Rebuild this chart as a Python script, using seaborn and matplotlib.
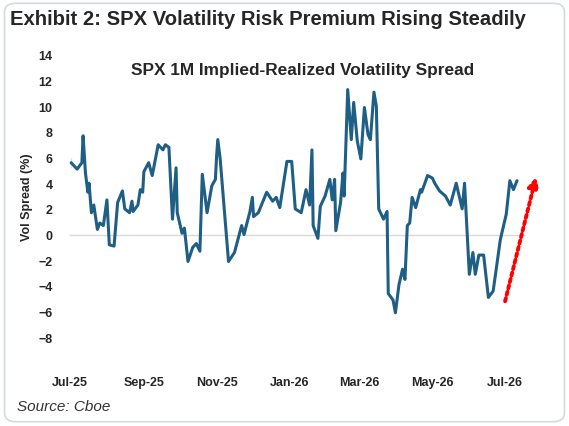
import matplotlib
matplotlib.use("Agg")
import matplotlib.pyplot as plt
import matplotlib.dates as mdates
from matplotlib.patches import FancyBboxPatch
import seaborn as sns
import pandas as pd
import numpy as np

sns.set_style("white")
plt.rcParams['font.family'] = ['Liberation Sans', 'DejaVu Sans']

start = pd.Timestamp("2025-07-01")
day_offsets = [1, 1, 6, 10, 11, 13, 15, 16, 18, 20, 23, 25, 28, 31, 33, 37, 40, 44, 46, 50, 52, 53,
               57, 59, 61, 62, 66, 69, 74, 78, 80, 83, 86, 89, 90, 94, 96, 99, 103, 106, 109, 111,
               115, 119, 122, 123, 124, 126, 133, 138, 144, 146, 151, 153, 154, 158, 165, 170,
               173, 176, 182, 186, 189, 194, 198, 201, 203, 204, 208, 210, 214, 218, 220, 222,
               223, 227, 229, 230, 233, 236, 238, 241, 244, 247, 250, 252, 255, 257, 259, 263,
               266, 267, 271, 273, 276, 279, 281, 283, 285, 287, 290, 294, 295, 300, 304, 306,
               310, 315, 319, 324, 329, 331, 335, 338, 340, 343, 347, 351, 355, 361, 366, 369, 372, 375]
spread = [6.0, 5.2, 5.1, 5.6, 7.7, 4.8, 3.3, 4.0, 1.7, 2.3, 0.4, 0.9, 0.7, 2.7, -0.8, -0.9, 2.5,
          3.4, 2.0, 1.7, 2.6, 1.8, 2.3, 3.5, 3.3, 4.9, 5.6, 4.6, 7.0, 6.6, 7.0, 6.8, 1.2, 5.2,
          1.7, 0.1, 0.5, -2.1, -1.0, -0.7, -1.3, 4.7, 1.7, 3.8, 4.3, 6.1, 7.4, 5.9, -2.1, -1.4,
          0.7, 0.0, 1.8, 2.9, 1.4, 1.7, 3.3, 2.6, 2.9, 2.1, 5.7, 5.7, 2.0, 1.7, 3.5, 2.3, 6.6,
          0.7, -0.3, 2.2, 3.0, 4.3, 2.7, 4.3, 0.3, 2.5, 4.8, 3.0, 11.3, 7.4, 10.3, 7.3, 5.9, 9.9,
          7.8, 7.4, 11.1, 10.0, 2.0, 1.2, 1.8, -4.6, -5.1, -6.1, -3.9, -2.7, -3.5, 0.7, 0.9,
          2.9, 2.1, 3.5, 3.3, 4.6, 4.4, 4.0, 3.4, 3.0, 2.3, 4.0, 2.0, 4.0, -3.1, -1.4, -3.1,
          -1.6, -1.6, -4.9, -4.4, -0.4, 1.6, 4.2, 3.5, 4.2]
df = pd.DataFrame({"date": start + pd.to_timedelta(day_offsets, unit="D"), "spread": spread})

arrow_start = (365, -5.2)
arrow_end = (391, 4.5)

fig = plt.figure(figsize=(5.69, 4.27), dpi=100)
card = FancyBboxPatch((0.008, 0.01), 0.984, 0.98, boxstyle="round,pad=0,rounding_size=0.02",
                      transform=fig.transFigure, facecolor="white", edgecolor="#d3dae2", lw=1.2,
                      zorder=-10)
fig.patches.append(card)
fig.text(0.018, 0.955, "Exhibit 2: SPX Volatility Risk Premium Rising Steadily",
         fontsize=14.6, fontweight="bold", va="center", ha="left")
fig.text(0.03, 0.047, "Source: Cboe", fontsize=11, style="italic", va="center", color="#333333")

ax = fig.add_axes([0.102, 0.208, 0.859, 0.661])
ax.set_facecolor("none")
sns.lineplot(data=df, x="date", y="spread", ax=ax, color="#1f5f85", lw=2.2)
ax.set_xlim(start - pd.Timedelta(days=10), start + pd.Timedelta(days=400))
ax.set_ylim(-8, 14)
ax.set_yticks(range(-8, 15, 2))
ax.xaxis.set_major_locator(mdates.MonthLocator(bymonth=[1, 3, 5, 7, 9, 11]))
ax.xaxis.set_major_formatter(mdates.DateFormatter("%b-%y"))
for s in ax.spines.values():
    s.set_visible(False)
ax.hlines(0, start - pd.Timedelta(days=1), start + pd.Timedelta(days=382),
          color="#d9d9d9", lw=1, zorder=0)
ax.tick_params(axis="both", labelsize=9, length=0, pad=4)
for lbl in ax.get_xticklabels() + ax.get_yticklabels():
    lbl.set_fontweight("bold")
ax.xaxis.set_tick_params(pad=28)
ax.set_xlabel("")
ax.set_ylabel("Vol Spread (%)", fontsize=9, fontweight="bold")
ax.set_title("SPX 1M Implied-Realized Volatility Spread", fontsize=12.4, fontweight="bold", pad=-14)
ax.annotate("", xy=(start + pd.Timedelta(days=arrow_end[0]), arrow_end[1]),
            xytext=(start + pd.Timedelta(days=arrow_start[0]), arrow_start[1]),
            arrowprops=dict(arrowstyle="-|>", color="red", lw=2.8, linestyle=(0, (0.8, 0.9)),
                            mutation_scale=15, shrinkA=0, shrinkB=0))
fig.savefig("out.png", dpi=100)
